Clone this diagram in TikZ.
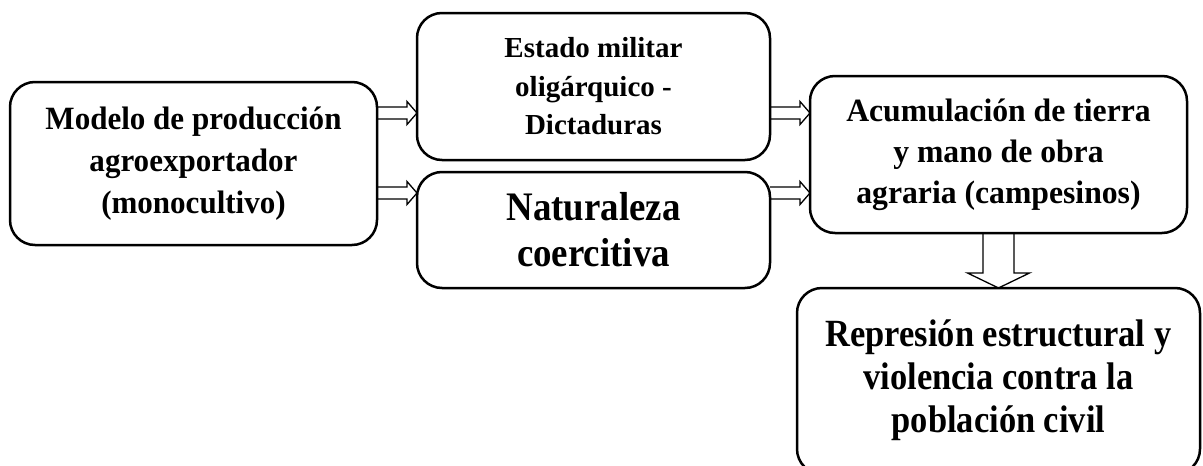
\documentclass[tikz,border=0pt]{standalone}
\usepackage{fontspec}
\setmainfont{Liberation Serif}
\newfontfamily\fontA[FakeStretch=0.955]{Liberation Serif}
\newfontfamily\fontB[FakeStretch=1.0]{Liberation Serif}
\newfontfamily\fontC[FakeStretch=0.91]{Liberation Serif}
\newfontfamily\fontD[FakeStretch=0.975]{Liberation Serif}
\newfontfamily\fontE[FakeStretch=0.895]{Liberation Serif}
\usetikzlibrary{calc}
\newcommand\blockR[3]{%
  \draw[arr] ($(#1.east|-#3)+(0,-6)$) -- ($(#2.west|-#3)+(-10,-6)$) -- ($(#2.west|-#3)+(-10,-11.5)$)
    -- (#2.west|-#3) -- ($(#2.west|-#3)+(-10,11.5)$) -- ($(#2.west|-#3)+(-10,6)$) -- ($(#1.east|-#3)+(0,6)$);}
\begin{document}
\begin{tikzpicture}[x=1pt,y=-1pt,
  box/.style={draw, line width=2.5pt, rounded corners=25pt, align=center, inner sep=0pt, outer sep=0pt},
  arr/.style={draw, line width=1.3pt, line join=miter}]
\useasboundingbox (0,0) rectangle (1203,466);
\clip (0,0) rectangle (1203,466);
\node[box, minimum width=367pt, minimum height=163pt, font=\fontA\fontsize{32.5}{42}\selectfont\bfseries] (A) at (193.5,163.5)
  {Modelo de producción\\agroexportador\\(monocultivo)};
\node[box, minimum width=353pt, minimum height=147pt, font=\fontB\fontsize{29}{38.5}\selectfont\bfseries] (B) at (593.5,86.5)
  {Estado militar\\oligárquico -\\Dictaduras};
\node[box, minimum width=353pt, minimum height=116pt, font=\fontC\fontsize{40.5}{46}\selectfont\bfseries] (C) at (593.5,230)
  {Naturaleza\\coercitiva};
\node[box, minimum width=377pt, minimum height=157pt, font=\fontD\fontsize{32.5}{41}\selectfont\bfseries] (D) at (998.5,154.5)
  {Acumulación de tierra\\y mano de obra\\agraria (campesinos)};
\node[box, minimum width=403pt, minimum height=186pt, font=\fontE\fontsize{38.5}{43}\selectfont\bfseries] (E) at (998.5,381)
  {\raisebox{8pt}{\begin{tabular}{@{}c@{}}Represión estructural y\\violencia contra la\\población civil\end{tabular}}};
\coordinate (y1) at (0,113);
\coordinate (y2) at (0,193);
\blockR{A}{B}{y1}
\blockR{A}{C}{y2}
\blockR{B}{D}{y1}
\blockR{C}{D}{y2}
\draw[arr] ($(D.south)+(-15.5,0)$) -- ($(E.north)+(-15.5,-15)$) -- ($(E.north)+(-31,-15)$) -- (E.north)
  -- ($(E.north)+(31,-15)$) -- ($(E.north)+(15.5,-15)$) -- ($(D.south)+(15.5,0)$);
\end{tikzpicture}
\end{document}
